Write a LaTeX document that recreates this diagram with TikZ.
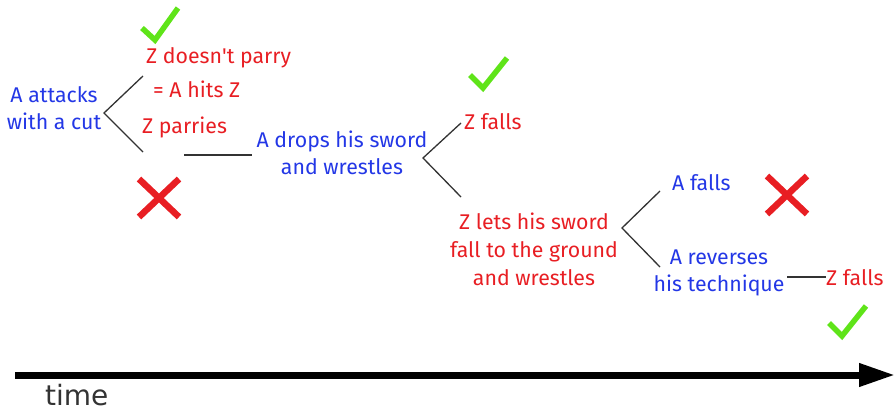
\documentclass[tikz,border=0pt]{standalone}
\usepackage{fontspec}
\setmainfont{Fira Sans}
\newfontfamily\timefont{DejaVu Sans}
\usetikzlibrary{arrows.meta}
\definecolor{tblue}{RGB}{35,55,230}
\definecolor{tred}{RGB}{232,30,35}
\definecolor{tgreen}{RGB}{95,228,25}
\newcommand{\straightq}{{\addfontfeature{Ligatures=TeXOff}'}}
\begin{document}
\begin{tikzpicture}[x=1pt,y=-1pt,
  lbl/.style={font=\fontsize{21.3}{26.5}\selectfont, align=center, inner sep=0pt},
  bl/.style={lbl, text=tblue},
  rd/.style={lbl, text=tred},
  br/.style={draw=black!80, line width=1.3pt},
  chk/.style={draw=tgreen, line width=5.5pt, line cap=butt, line join=miter},
  crs/.style={draw=tred, line width=6.5pt}]
\useasboundingbox (0,0) rectangle (895,410);
% nodes
\node[bl] (a1) at (54,108) {A attacks\\with a cut};
\node[rd, anchor=west] (n1) at (146,58) {Z doesn\straightq t parry};
\node[rd, anchor=west] (n1b) at (153,89) {= A hits Z};
\node[rd, anchor=west] (n2) at (142,127) {Z parries};
\node[bl] (a2) at (342,153) {A drops his sword\\and wrestles};
\node[rd, anchor=west] (n3) at (464,122) {Z falls};
\node[rd, font=\fontsize{21.3}{28}\selectfont] (n4) at (534,249) {Z lets his sword\\fall to the ground\\and wrestles};
\node[bl, anchor=west] (a3) at (672,183) {A falls};
\node[bl] (a4) at (719,273) {A reverses\\his technique};
\node[rd, anchor=west] (n5) at (826,278) {Z falls};
% branch coordinates
\coordinate (p1) at (104,113);
\coordinate (p1t) at (143,76);
\coordinate (p1b) at (143,152);
\coordinate (l1a) at (184,155);
\coordinate (l1b) at (252,155);
\coordinate (p2) at (423,158);
\coordinate (p2t) at (461,123);
\coordinate (p2b) at (461,197);
\coordinate (p3) at (622,228);
\coordinate (p3t) at (660,191);
\coordinate (p3b) at (660,267);
\coordinate (l2a) at (787,277);
\coordinate (l2b) at (826,277);
\draw[br] (p1t) -- (p1) -- (p1b);
\draw[br] (l1a) -- (l1b);
\draw[br] (p2t) -- (p2) -- (p2b);
\draw[br] (p3t) -- (p3) -- (p3b);
\draw[br] (l2a) -- (l2b);
% check marks
\draw[chk] (142,28) -- (155,40) -- (178,8);
\draw[chk] (470,75) -- (483,88) -- (507,58);
\draw[chk] (829,323) -- (842,336) -- (866,306);
% crosses
\draw[crs] (139,179) -- (179,217) (179,179) -- (139,217);
\draw[crs] (767,176) -- (807,214) (807,176) -- (767,214);
% time axis
\coordinate (t0) at (15,375);
\coordinate (t1) at (895,375);
\draw[line width=7pt, -{Triangle[length=36pt,width=22pt]}] (t0) -- (t1);
\node[font=\timefont\fontsize{28}{30}\selectfont, text=black!80, anchor=base west, inner sep=0pt] (tm) at (45,405) {time};
\end{tikzpicture}
\end{document}
